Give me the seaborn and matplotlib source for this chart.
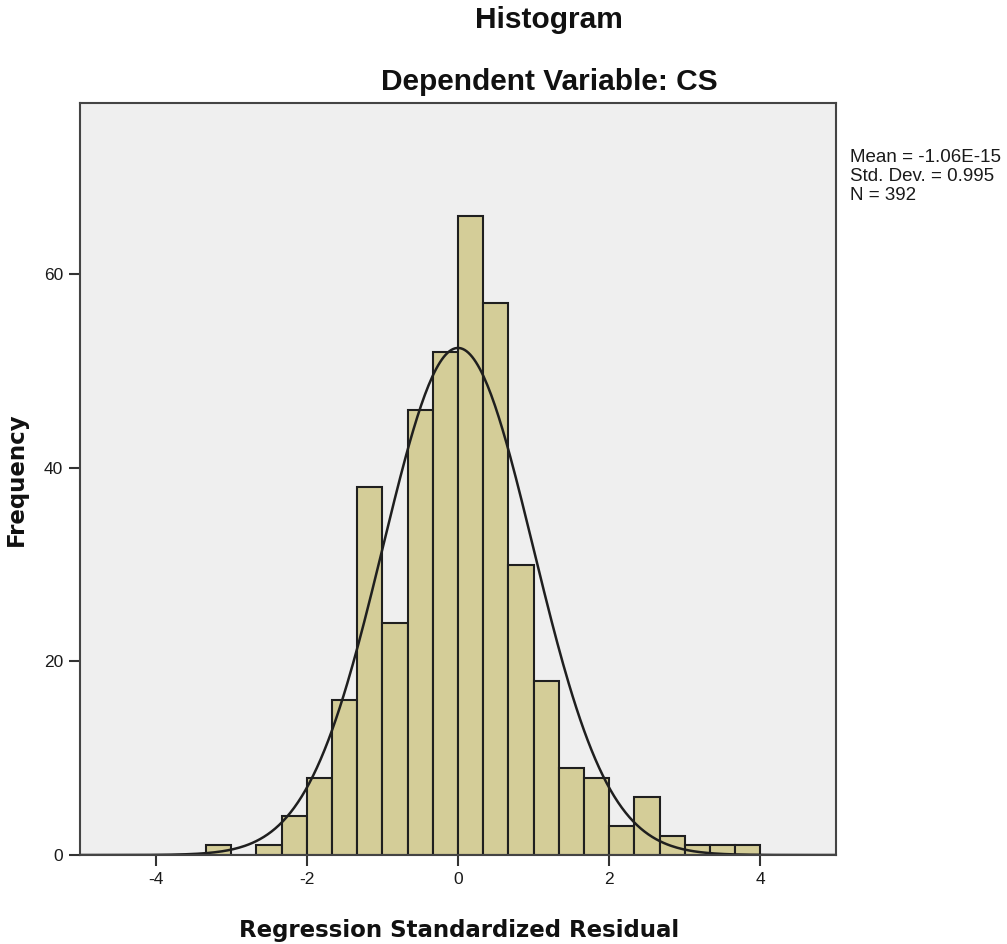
import numpy as np
import pandas as pd
import matplotlib
matplotlib.use("Agg")
import matplotlib.pyplot as plt
import seaborn as sns

# bin edges of the histogram (width 1/3) and counts
bin_start = -10 / 3
bin_width = 1 / 3
counts = [1, 0, 1, 4, 8, 16, 38, 24, 46, 52, 66, 57, 30, 18, 9, 8, 3, 6, 2, 1, 1, 1]

stat_mean = -1.06e-15
stat_sd = 0.995
stat_n = 392
stat_lines = ["Mean = -1.06E-15", f"Std. Dev. = {stat_sd}", f"N = {stat_n}"]

x_ticks = [-4, -2, 0, 2, 4]
y_ticks = [0, 20, 40, 60]

edges = bin_start + bin_width * np.arange(len(counts) + 1)
centers = (edges[:-1] + edges[1:]) / 2
df = pd.DataFrame({"x": centers, "count": counts})

# normal curve scaled to frequencies
xs = np.linspace(-5, 5, 400)
ys = stat_n * bin_width * np.exp(-0.5 * ((xs - stat_mean) / stat_sd) ** 2) / (stat_sd * np.sqrt(2 * np.pi))
curve = pd.DataFrame({"x": xs, "y": ys})

sns.set_style("white")
plt.rcParams["font.family"] = ["Liberation Sans", "DejaVu Sans"]
plt.rcParams["axes.unicode_minus"] = False

W, H = 1007, 944
fig = plt.figure(figsize=(W / 100, H / 100), dpi=100)
ax = fig.add_axes([80 / W, 1 - 855 / H, 756 / W, 752 / H])
ax.set_facecolor("#efefef")

sns.histplot(data=df, x="x", weights="count", binwidth=bin_width,
             binrange=(edges[0], edges[-1]), color="#d4cd98",
             edgecolor="#1f1f1f", linewidth=1.5, alpha=1, ax=ax)
sns.lineplot(data=curve, x="x", y="y", color="#1f1f1f", linewidth=1.8, ax=ax)

ax.set_xlim(-5, 5)
ax.set_ylim(0, 77.7)
ax.set_xticks(x_ticks)
ax.set_yticks(y_ticks)
ax.tick_params(direction="out", length=8, width=1.5, color="#333333", pad=4,
               labelsize=12.5, labelcolor="#1a1a1a", bottom=True, left=True)
for s in ax.spines.values():
    s.set_color("#444444")
    s.set_linewidth(1.5)
ax.set_xlabel("")
ax.set_ylabel("")

lab_font = dict(family="DejaVu Sans", fontsize=16.5, fontweight="bold", color="#111111")
fig.text(459 / W, 1 - 937 / H, "Regression Standardized Residual", ha="center", va="baseline", **lab_font)
fig.text(16 / W, 1 - 479 / H, "Frequency", ha="center", va="center", rotation=90, **lab_font)

title_font = dict(fontsize=21.5, fontweight="bold", color="#111111")
fig.text(549 / W, 1 - 28 / H, "Histogram", ha="center", va="baseline", **title_font)
fig.text(549 / W, 1 - 90 / H, "Dependent Variable: CS", ha="center", va="baseline", **title_font)

for i, line in enumerate(stat_lines):
    fig.text(850 / W, 1 - (162 + 19 * i) / H, line, ha="left", va="baseline",
             fontsize=13.5, color="#1a1a1a")

fig.savefig("out.png", dpi=100)
